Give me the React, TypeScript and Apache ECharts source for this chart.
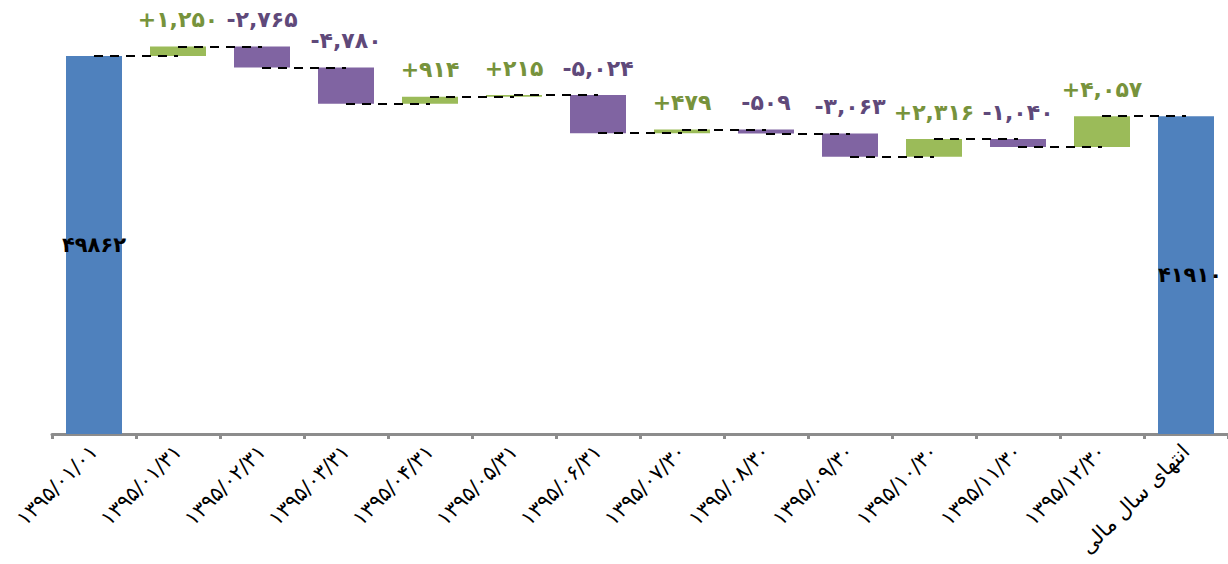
import React, { useEffect, useRef } from "react";
import * as echarts from "echarts";

const categories = [
  "۱۳۹۵/۰۱/۰۱",
  "۱۳۹۵/۰۱/۳۱",
  "۱۳۹۵/۰۲/۳۱",
  "۱۳۹۵/۰۳/۳۱",
  "۱۳۹۵/۰۴/۳۱",
  "۱۳۹۵/۰۵/۳۱",
  "۱۳۹۵/۰۶/۳۱",
  "۱۳۹۵/۰۷/۳۰",
  "۱۳۹۵/۰۸/۳۰",
  "۱۳۹۵/۰۹/۳۰",
  "۱۳۹۵/۱۰/۳۰",
  "۱۳۹۵/۱۱/۳۰",
  "۱۳۹۵/۱۲/۳۰",
  "انتهای سال مالی",
];

const startValue = 49862;
const endValue = 41910;
const changes = [1250, -2765, -4780, 914, 215, -5024, 479, -509, -3063, 2316, -1040, 4057];

const BLUE = "#4F81BD";
const GREEN = "#9BBB59";
const PURPLE = "#8064A2";
const GREEN_TEXT = "#77933C";
const PURPLE_TEXT = "#5F497A";

const toFa = (s: string) => s.replace(/[0-9]/g, (d) => "۰۱۲۳۴۵۶۷۸۹"[Number(d)]);
const fmtChange = (v: number) => {
  const abs = Math.abs(v).toString().replace(/\B(?=(\d{3})+(?!\d))/g, ",");
  return (v >= 0 ? "+" : "-") + toFa(abs);
};

export default function App() {
  const ref = useRef<HTMLDivElement>(null);
  useEffect(() => {
    if (!ref.current) return;
    const chart = echarts.init(ref.current, null, { renderer: "svg" });

    const base: number[] = [0];
    const heights: any[] = [];
    const levels: number[] = [startValue];
    heights.push({
      value: startValue,
      itemStyle: { color: BLUE },
      label: {
        show: true,
        position: "inside",
        formatter: toFa(String(startValue)),
        color: "#000",
        fontWeight: "bold",
        fontSize: 21,
        fontFamily: "DejaVu Sans",
      },
    });
    let cur = startValue;
    changes.forEach((c) => {
      const next = cur + c;
      base.push(Math.min(cur, next));
      heights.push({
        value: Math.abs(c),
        itemStyle: { color: c >= 0 ? GREEN : PURPLE },
        label: {
          show: true,
          position: "top",
          distance: 16,
          formatter: fmtChange(c),
          color: c >= 0 ? GREEN_TEXT : PURPLE_TEXT,
          fontWeight: "bold",
          fontSize: 22,
          fontFamily: "DejaVu Sans",
        },
      });
      cur = next;
      levels.push(cur);
    });
    base.push(0);
    heights.push({
      value: endValue,
      itemStyle: { color: BLUE },
      label: {
        show: true,
        position: "inside",
        offset: [4, 0],
        formatter: toFa(String(endValue)),
        color: "#000",
        fontWeight: "bold",
        fontSize: 21,
        fontFamily: "DejaVu Sans",
      },
    });

    const lines = levels.map((v, i) => [
      { coord: [i, v] },
      { coord: [i + 1, v] },
    ]);

    chart.setOption({
      animation: false,
      grid: { left: 52, right: 0, top: 17, bottom: 130 },
      xAxis: {
        type: "category",
        data: categories,
        axisLine: { lineStyle: { color: "#8C8C8C", width: 3 } },
        axisTick: { show: true, length: 5, lineStyle: { color: "#8C8C8C", width: 3 } },
        axisLabel: {
          rotate: 45,
          interval: 0,
          margin: 14,
          fontSize: 21,
          color: "#000",
          fontFamily: "DejaVu Sans",
        },
      },
      yAxis: {
        type: "value",
        min: 0,
        max: 55000,
        show: false,
        splitLine: { show: false },
      },
      series: [
        {
          type: "bar",
          stack: "w",
          data: base,
          barWidth: 56,
          itemStyle: { color: "transparent" },
          silent: true,
        },
        {
          type: "bar",
          stack: "w",
          data: heights,
          barWidth: 56,
          markLine: {
            silent: true,
            symbol: "none",
            label: { show: false },
            lineStyle: { color: "#000", width: 2, type: [9, 7] },
            data: lines,
          },
        },
      ],
    });
    return () => chart.dispose();
  }, []);
  return (
    <div
      ref={ref}
      style={{ position: "absolute", left: 0, top: 0, width: 1228, height: 564 }}
    />
  );
}
